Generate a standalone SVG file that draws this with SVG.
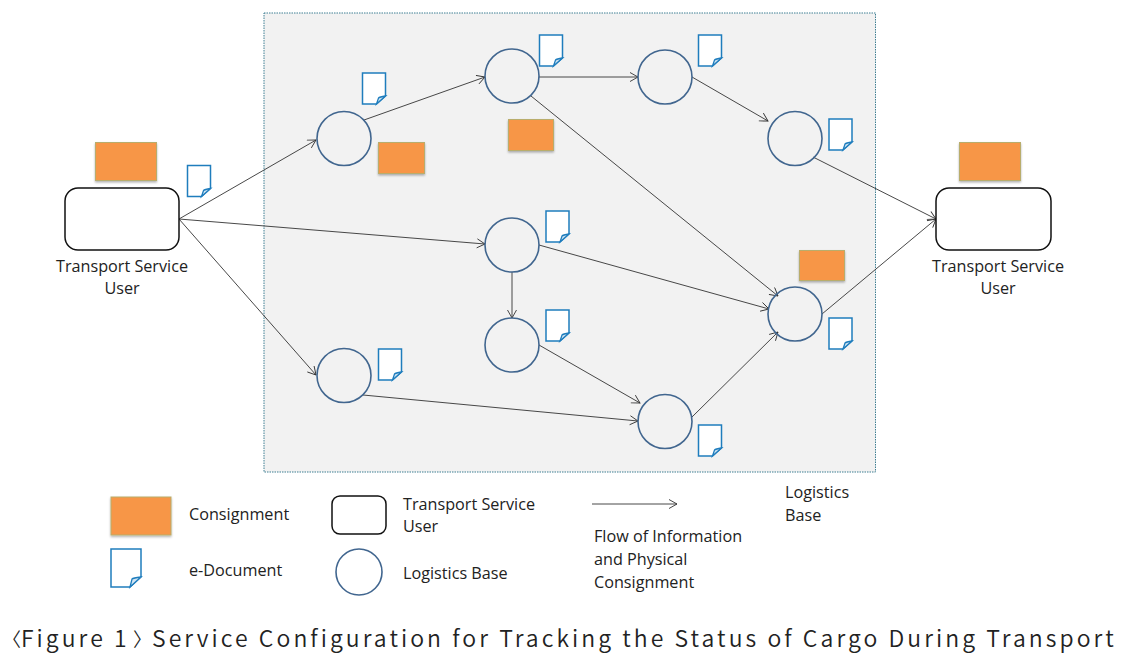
<svg xmlns="http://www.w3.org/2000/svg" width="1133" height="656" viewBox="0 0 1133 656">
<style>
.lb{fill:none;stroke:#41668f;stroke-width:1.6}
.tsu{fill:#fff;stroke:#111;stroke-width:1.5}
.cons{fill:#f79646;stroke:#b9ad6c;stroke-width:1;filter:url(#sh)}
.docb{fill:#fff;stroke:#1f7dbd;stroke-width:1.5;stroke-linejoin:miter}
.docf{fill:#cfe4f3;stroke:#1f7dbd;stroke-width:1.3}
.c{fill:none;stroke:#333;stroke-width:.9;marker-end:url(#ah)}
text{font-family:"Open Sans","Noto Sans","Liberation Sans",sans-serif;font-size:16.2px;fill:#222}
.m{text-anchor:middle}
.cap{font-family:"Noto Sans CJK KR","Liberation Sans",sans-serif;font-size:23px;font-weight:350;fill:#222}
.br{font-size:19px}
</style>
<defs>
<marker id="ah" markerUnits="userSpaceOnUse" markerWidth="12" markerHeight="12" refX="9" refY="5" orient="auto">
<path d="M1 .5L9 5L1 9.5" fill="none" stroke="#333" stroke-width=".9"/>
</marker>
<filter id="sh" x="-10%" y="-10%" width="120%" height="125%">
<feDropShadow dx="0" dy="1.5" stdDeviation="1" flood-color="#000" flood-opacity=".3"/>
</filter>
<g id="doc">
<path class="docb" d="M0 0H23V23L14 31H0Z"/>
<path class="docf" d="M14 31L16 25Q17 24 23 23Z"/>
</g>
</defs>
<rect id="region" x="264" y="13" width="611.500" height="459" fill="#f2f2f2" stroke="#3f7f93" stroke-width="1" stroke-dasharray="1.500 1"/>
<g id="connectors">
<path class="c" d="M179 219L316 140"/>
<path class="c" d="M179 219L485 244"/>
<path class="c" d="M179 219L316 375"/>
<path class="c" d="M364 120L485 77"/>
<path class="c" d="M539 77H638"/>
<path class="c" d="M692 77L768 121"/>
<path class="c" d="M813 157L936 219"/>
<path class="c" d="M531 96L778 296"/>
<path class="c" d="M539 245L769 309"/>
<path class="c" d="M512 272V318"/>
<path class="c" d="M539 345L640 403"/>
<path class="c" d="M363 395L638 421"/>
<path class="c" d="M692 417L778 332"/>
<path class="c" d="M822 314L936 219"/>
<path class="c" d="M592 504H677"/>
</g>
<g id="user-source"><rect class="tsu" x="65" y="188" width="114" height="62" rx="13"/><text class="m" x="122" y="271.700">Transport Service</text><text class="m" x="122" y="293.700">User</text></g>
<g id="user-target"><rect class="tsu" x="936" y="188" width="115" height="62" rx="13"/><text class="m" x="998" y="271.700">Transport Service</text><text class="m" x="998" y="293.700">User</text></g>
<g id="base-1"><circle class="lb" cx="344" cy="138.500" r="27"/></g>
<g id="base-2"><circle class="lb" cx="512" cy="76" r="27"/></g>
<g id="base-3"><circle class="lb" cx="665" cy="77" r="27"/></g>
<g id="base-4"><circle class="lb" cx="795" cy="138.500" r="27"/></g>
<g id="base-5"><circle class="lb" cx="512" cy="245" r="27"/></g>
<g id="base-6"><circle class="lb" cx="512" cy="345" r="27"/></g>
<g id="base-7"><circle class="lb" cx="344" cy="375.500" r="27"/></g>
<g id="base-8"><circle class="lb" cx="665" cy="421.500" r="27"/></g>
<g id="base-9"><circle class="lb" cx="795" cy="314" r="27"/></g>
<g id="consignments">
<rect class="cons" x="95.500" y="142.500" width="61" height="38"/>
<rect class="cons" x="378.500" y="142.500" width="46" height="31"/>
<rect class="cons" x="508.500" y="119.500" width="45" height="31"/>
<rect class="cons" x="799.500" y="250.500" width="45" height="30"/>
<rect class="cons" x="959.500" y="142.500" width="61" height="38"/>
</g>
<g id="documents">
<use href="#doc" x="187.500" y="165.500"/>
<use href="#doc" x="362.500" y="73"/>
<use href="#doc" x="539.500" y="35"/>
<use href="#doc" x="698.500" y="35"/>
<use href="#doc" x="829" y="119"/>
<use href="#doc" x="546" y="211"/>
<use href="#doc" x="546" y="310"/>
<use href="#doc" x="378.500" y="349"/>
<use href="#doc" x="698.500" y="425"/>
<use href="#doc" x="829" y="318"/>
</g>
<g id="legend">
<rect class="cons" x="111" y="497" width="60" height="38"/>
<text x="189" y="520.300">Consignment</text>
<path class="docb" d="M111 549H141V577L130 587H111Z"/>
<path class="docf" d="M130 587L132 579Q133 578 141 577Z"/>
<text x="189" y="575.700">e-Document</text>
<rect class="tsu" x="332" y="496" width="54" height="38" rx="8"/>
<text x="403" y="509.700">Transport Service</text>
<text x="403" y="531.700">User</text>
<circle class="lb" cx="359" cy="572" r="23"/>
<text x="403" y="578.700">Logistics Base</text>
<text x="594" y="541.700">Flow of Information</text>
<text x="594" y="564.700">and Physical</text>
<text x="594" y="587.700">Consignment</text>
<text x="785" y="497.700">Logistics</text>
<text x="785" y="520.700">Base</text>
</g>
<text class="cap" y="647" letter-spacing="3.050"><tspan class="br" x="2" letter-spacing="0">〈</tspan><tspan x="21">Figure 1</tspan><tspan class="br" x="133" letter-spacing="0">〉</tspan><tspan x="152">Service Configuration for Tracking the Status of Cargo During Transport</tspan></text>
</svg>
